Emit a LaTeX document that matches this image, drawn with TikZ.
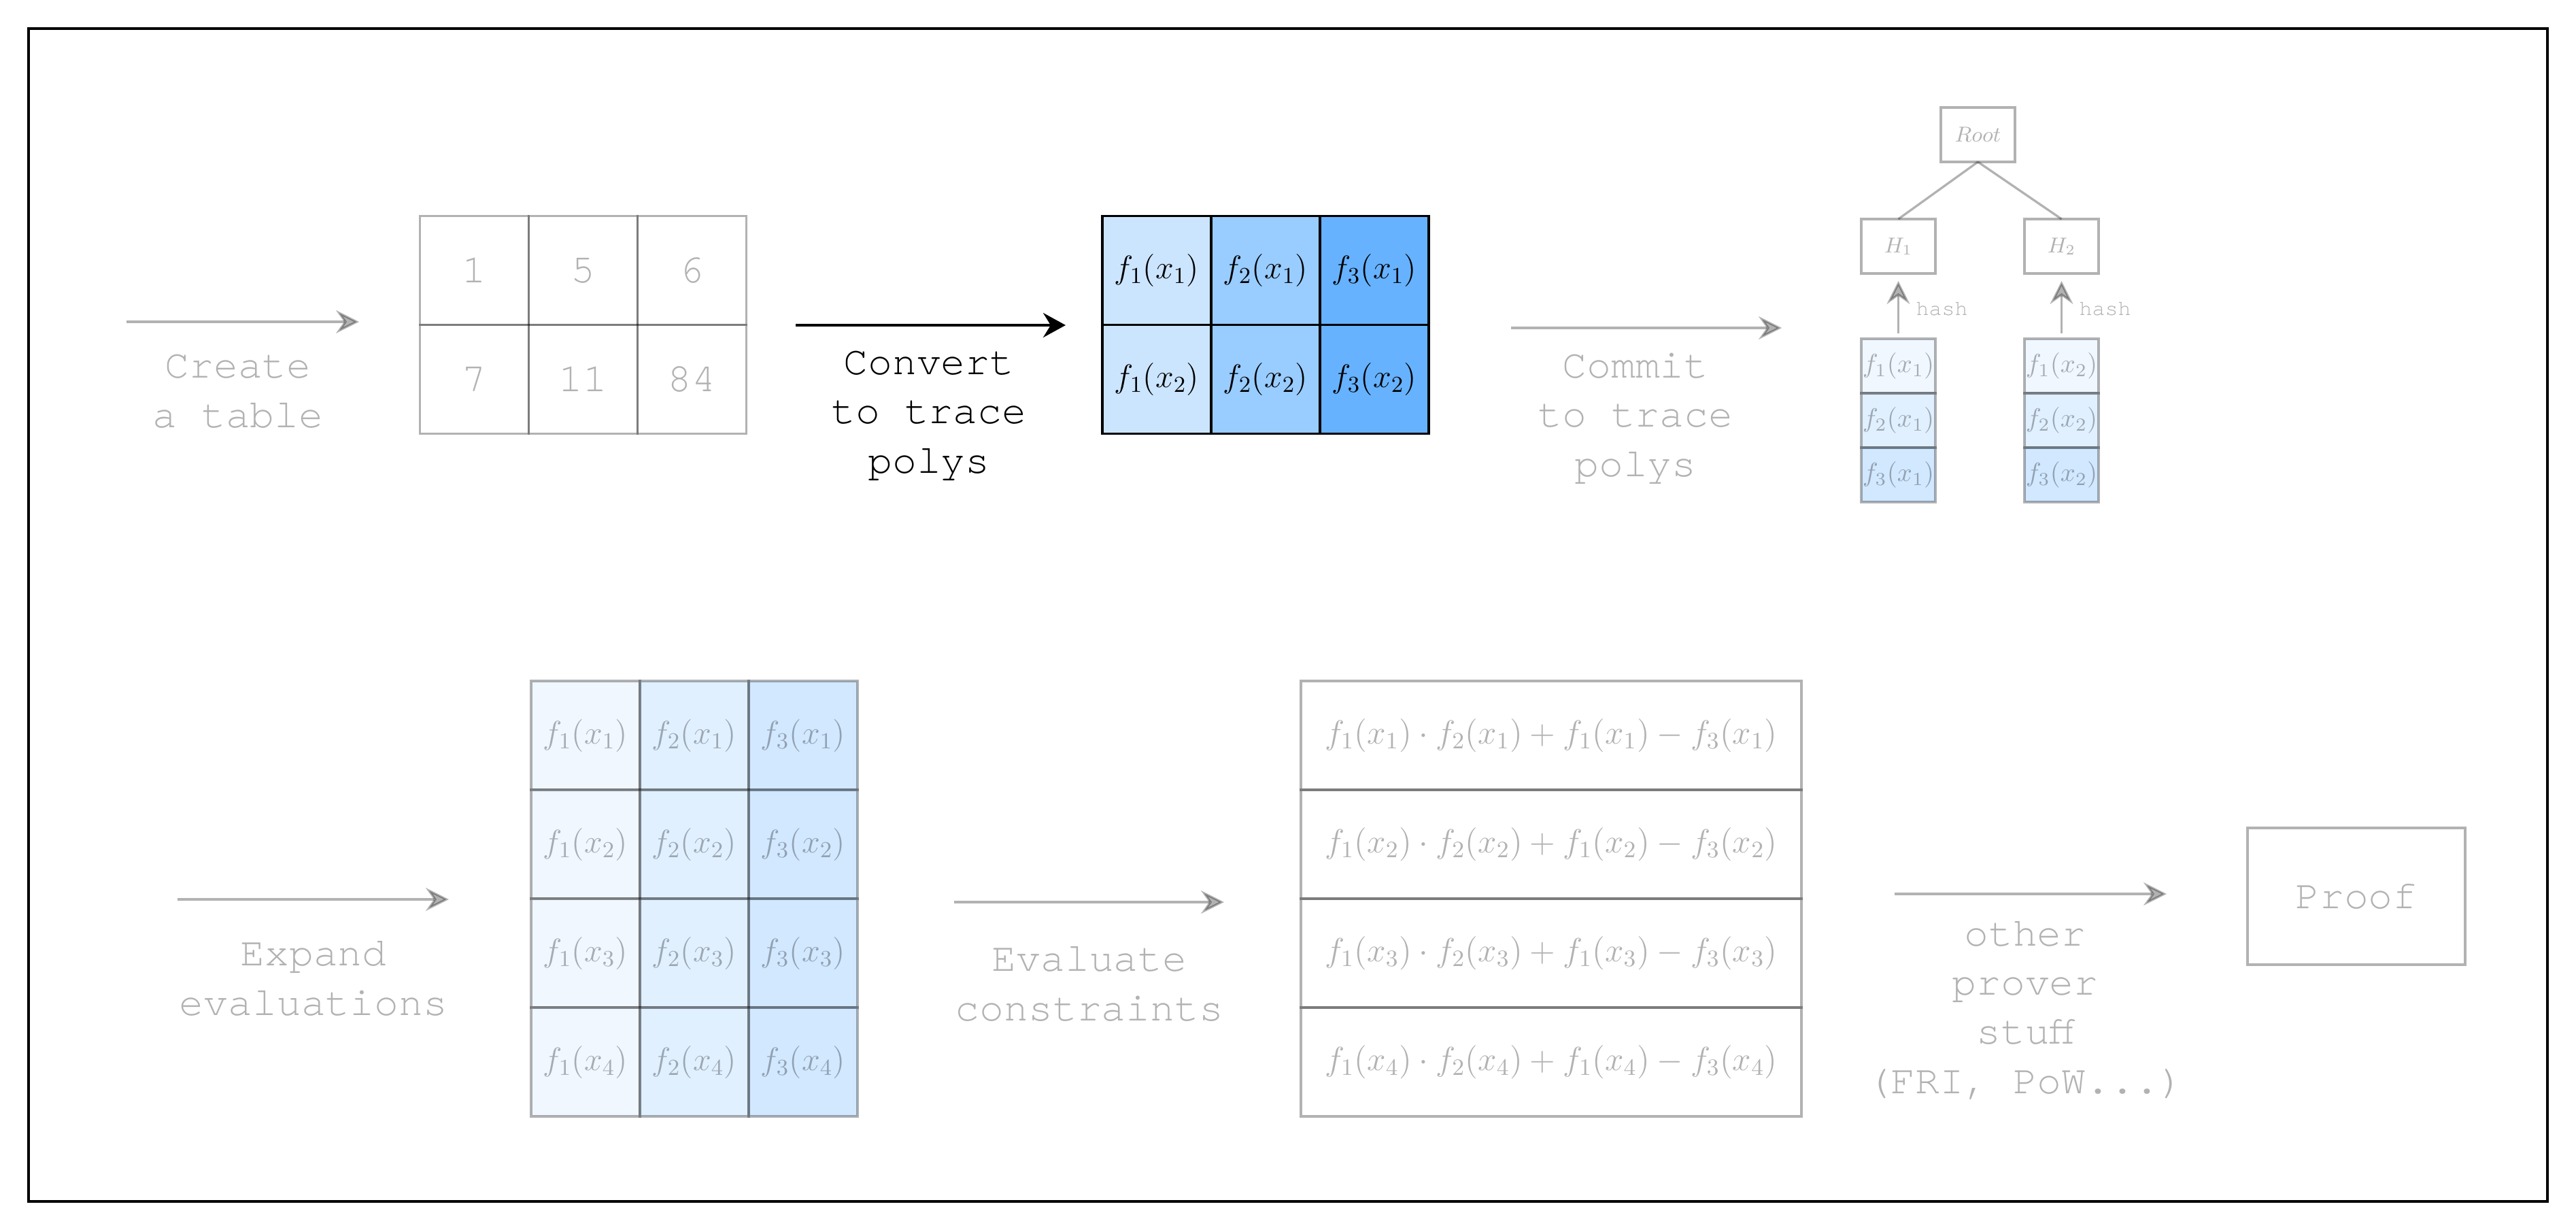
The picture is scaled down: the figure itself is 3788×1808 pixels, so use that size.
\RequirePackage{fix-cm}
\documentclass[tikz,border=0pt]{standalone}
\usepackage{fontspec}
\newfontfamily\courfont{TeX Gyre Cursor}
\usetikzlibrary{arrows.meta}
\definecolor{cA}{HTML}{CCE5FF}
\definecolor{cB}{HTML}{99CCFF}
\definecolor{cC}{HTML}{66B2FF}
\begin{document}
\begin{tikzpicture}[x=0.1mm,y=-0.1mm,
  lbl/.style={font={\courfont\fontsize{17}{20.5}\selectfont}, align=center, anchor=base, inner sep=0pt},
  glbl/.style={lbl, text opacity=0.3},
  hashlbl/.style={font={\courfont\fontsize{9}{11}\selectfont}, anchor=base west, inner sep=0pt, text opacity=0.3},
  garrow/.style={line width=0.33mm, draw=black, opacity=0.3, -{Stealth[length=3.4mm,width=3.4mm,inset=1.2mm]}},
  barrow/.style={line width=0.4mm, draw=black, -{Stealth[length=3.3mm,width=3.6mm,inset=1.1mm]}},
  gline/.style={line width=0.33mm, draw=black, opacity=0.3},
  cellbase/.style={draw=black, line width=0.33mm, inner sep=0pt, outer sep=0pt, minimum width=16mm, minimum height=16mm},
  numcell/.style={cellbase, opacity=0.3, text opacity=0.3, font={\courfont\fontsize{17}{20.5}\selectfont}},
  polycell/.style={cellbase, line width=0.35mm, font={\fontsize{13.66}{16}\selectfont}},
  fadecell/.style={cellbase, opacity=0.3, text opacity=0.3, font={\fontsize{13.66}{16}\selectfont}},
  conscell/.style={fadecell, minimum width=73.6mm, font={\fontsize{14}{16}\selectfont}},
  mbox/.style={draw=black, line width=0.33mm, inner sep=0pt, outer sep=0pt, minimum width=10.9mm, minimum height=8mm, opacity=0.3, text opacity=0.3, font={\fontsize{9}{11}\selectfont}},
  mcell/.style={mbox, font={\fontsize{11}{12}\selectfont}},
  proofbox/.style={draw=black, line width=0.33mm, inner sep=0pt, minimum width=32mm, minimum height=20.1mm, opacity=0.3, text opacity=0.3, font={\courfont\fontsize{17}{20.5}\selectfont}}
]
\useasboundingbox (0,0) rectangle (3788,1808);
\draw[line width=0.4mm, black] (42,42) rectangle (3746,1766);

% ---- stage 1: create a table
\coordinate (a1s) at (186,473);
\coordinate (a1e) at (528,473);
\draw[garrow] (a1s) -- (a1e);
\node[glbl] (l1) at (350,628) {Create\\a table};
\node[numcell] (t11) at (697.5,397.5) {1};
\node[numcell] (t12) at (857.5,397.5) {5};
\node[numcell] (t13) at (1017.5,397.5) {6};
\node[numcell] (t21) at (697.5,557.5) {7};
\node[numcell] (t22) at (857.5,557.5) {11};
\node[numcell] (t23) at (1017.5,557.5) {84};

% ---- stage 2: convert to trace polys
\coordinate (a2s) at (1170,478);
\coordinate (a2e) at (1567,478);
\draw[barrow] (a2s) -- (a2e);
\node[lbl] (l2) at (1366,695) {Convert\\to trace\\polys};
\node[polycell, fill=cA] (p11) at (1701,397.5) {$f_1(x_1)$};
\node[polycell, fill=cB] (p12) at (1861,397.5) {$f_2(x_1)$};
\node[polycell, fill=cC] (p13) at (2021,397.5) {$f_3(x_1)$};
\node[polycell, fill=cA] (p21) at (1701,557.5) {$f_1(x_2)$};
\node[polycell, fill=cB] (p22) at (1861,557.5) {$f_2(x_2)$};
\node[polycell, fill=cC] (p23) at (2021,557.5) {$f_3(x_2)$};

% ---- stage 3: commit
\coordinate (a3s) at (2222,482);
\coordinate (a3e) at (2620,482);
\draw[garrow] (a3s) -- (a3e);
\node[glbl] (l3) at (2405,700) {Commit\\to trace\\polys};
\node[mbox] (root) at (2908.5,198) {$Root$};
\node[mbox] (h1) at (2791.5,362) {$H_1$};
\node[mbox] (h2) at (3031.5,362) {$H_2$};
\draw[gline] (root.south) -- (h1.north);
\draw[gline] (root.south) -- (h2.north);
\node[mcell, fill=cA] (m11) at (2791.5,538) {$f_1(x_1)$};
\node[mcell, fill=cB] (m12) at (2791.5,618) {$f_2(x_1)$};
\node[mcell, fill=cC] (m13) at (2791.5,698) {$f_3(x_1)$};
\node[mcell, fill=cA] (m21) at (3031.5,538) {$f_1(x_2)$};
\node[mcell, fill=cB] (m22) at (3031.5,618) {$f_2(x_2)$};
\node[mcell, fill=cC] (m23) at (3031.5,698) {$f_3(x_2)$};
\draw[garrow, shorten <=0.8mm, shorten >=1.1mm] (m11.north) -- (h1.south);
\draw[garrow, shorten <=0.8mm, shorten >=1.1mm] (m21.north) -- (h2.south);
\node[hashlbl] (hl1) at (2817,463.5) {hash};
\node[hashlbl] (hl2) at (3057,463.5) {hash};

% ---- stage 4: expand evaluations
\coordinate (a4s) at (261,1322);
\coordinate (a4e) at (660,1322);
\draw[garrow] (a4s) -- (a4e);
\node[glbl] (l4) at (461,1492) {Expand\\evaluations};
\foreach \r/\yy in {1/1081,2/1241,3/1401,4/1561}{
  \node[fadecell, fill=cA] (e\r1) at (861,\yy) {$f_1(x_\r)$};
  \node[fadecell, fill=cB] (e\r2) at (1021,\yy) {$f_2(x_\r)$};
  \node[fadecell, fill=cC] (e\r3) at (1181,\yy) {$f_3(x_\r)$};
}

% ---- stage 5: evaluate constraints
\coordinate (a5s) at (1403,1326);
\coordinate (a5e) at (1800,1326);
\draw[garrow] (a5s) -- (a5e);
\node[glbl] (l5) at (1602,1500) {Evaluate\\constraints};
\foreach \r/\yy in {1/1081,2/1241,3/1401,4/1561}{
  \node[conscell] (c\r) at (2281,\yy) {$f_1(x_\r)\cdot f_2(x_\r)+f_1(x_\r)-f_3(x_\r)$};
}

% ---- stage 6: other prover stuff
\coordinate (a6s) at (2786,1314);
\coordinate (a6e) at (3186,1314);
\draw[garrow] (a6s) -- (a6e);
\node[glbl] (l6) at (2978,1607) {other\\prover\\stuff\\(FRI, PoW...)};
\node[proofbox] (proof) at (3465,1317.5) {Proof};
\end{tikzpicture}
\end{document}
